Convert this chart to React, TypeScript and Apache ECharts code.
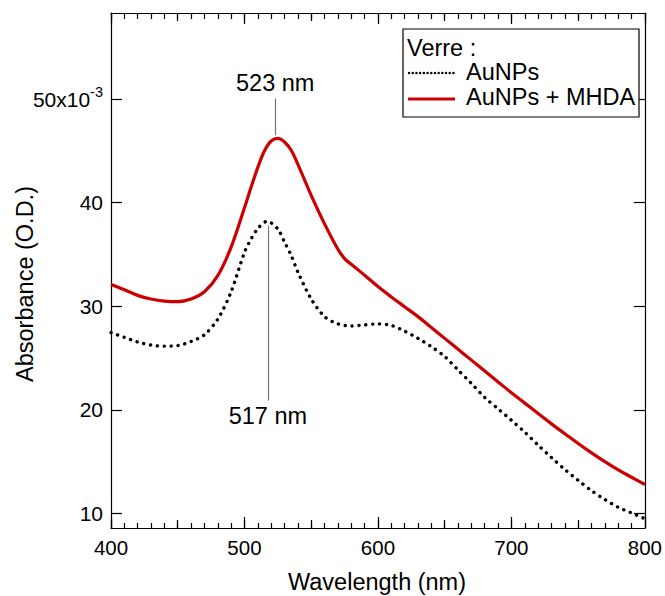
import React, { useEffect, useRef } from "react";
import * as echarts from "echarts";

const aunpsWavelength = [400, 410, 420, 430, 440, 450, 460, 470, 480, 490, 500, 505, 510, 517, 525, 530, 535, 540, 550, 560, 570, 580, 590, 600, 610, 620, 630, 640, 650, 660, 670, 680, 690, 700, 710, 720, 730, 740, 750, 760, 770, 780, 790, 800];
const aunpsAbsorbance = [27.45, 27.0, 26.55, 26.25, 26.15, 26.2, 26.6, 27.25, 28.75, 31.4, 35.2, 36.5, 37.5, 38.2, 37.45, 36.2, 34.9, 33.3, 30.7, 29.0, 28.3, 28.1, 28.2, 28.3, 28.15, 27.6, 26.9, 26.1, 25.15, 23.85, 22.55, 21.2, 20.1, 19.0, 17.85, 16.6, 15.4, 14.25, 13.2, 12.2, 11.35, 10.6, 10.05, 9.5];

const mhdaWavelength = [400, 410, 420, 430, 440, 450, 460, 470, 480, 490, 500, 505, 510, 515, 520, 525, 530, 535, 540, 545, 550, 560, 570, 575, 580, 590, 600, 610, 620, 630, 640, 650, 660, 670, 680, 690, 700, 710, 720, 730, 740, 750, 760, 770, 780, 790, 800];
const mhdaAbsorbance = [32.1, 31.6, 31.05, 30.7, 30.5, 30.45, 30.7, 31.4, 32.95, 35.7, 39.5, 41.5, 43.4, 45.0, 45.95, 46.2, 45.85, 45.05, 43.7, 42.2, 40.7, 37.95, 35.5, 34.6, 34.05, 33.0, 31.9, 30.9, 29.95, 29.0, 27.95, 26.9, 25.85, 24.8, 23.75, 22.7, 21.65, 20.65, 19.65, 18.65, 17.7, 16.75, 15.85, 15.0, 14.2, 13.5, 12.8];

const yTickValues = [10, 20, 30, 40, 50];
const legendTitle = "Verre :";
const seriesNames = ["AuNPs", "AuNPs + MHDA"];
const peakLabels = ["523 nm", "517 nm"];
const peak523 = { x: 523, yTop: 50.05, yBottom: 46.5 };
const peak517 = { x: 517.5, yTop: 37.8, yBottom: 20.9 };

const FONT = "'Liberation Sans', Arial, sans-serif";
const RED = "#cc0000";

export default function App() {
  const ref = useRef<HTMLDivElement>(null);
  useEffect(() => {
    if (!ref.current) return;
    const chart = echarts.init(ref.current, null, { renderer: "svg" });
    const yMin = 8.6;
    const yMax = 58.3;
    const axisLineStyle = { color: "#000", width: 1.2 };
    const hiddenLabel = { show: false };
    const option: any = {
      animation: false,
      backgroundColor: "#fff",
      textStyle: { fontFamily: FONT },
      grid: { left: 111, right: 17, top: 13, bottom: 68, containLabel: false },
      xAxis: [
        {
          type: "value", position: "bottom", min: 400, max: 800, interval: 100,
          axisLine: { show: true, lineStyle: axisLineStyle, onZero: false },
          axisTick: { show: true, inside: true, length: 11, lineStyle: axisLineStyle },
          minorTick: { show: true, splitNumber: 10, length: 5, lineStyle: axisLineStyle },
          axisLabel: { color: "#000", fontSize: 20.5, fontFamily: FONT, margin: 9 },
          splitLine: { show: false },
        },
        {
          type: "value", position: "bottom", min: 400, max: 800, interval: 50,
          axisLine: { show: false, onZero: false },
          axisTick: { show: true, inside: true, length: 8, lineStyle: axisLineStyle },
          axisLabel: hiddenLabel, splitLine: { show: false },
        },
        {
          type: "value", position: "top", min: 400, max: 800, interval: 100,
          axisLine: { show: true, lineStyle: axisLineStyle, onZero: false },
          axisTick: { show: true, inside: true, length: 11, lineStyle: axisLineStyle },
          minorTick: { show: true, splitNumber: 10, length: 6, lineStyle: axisLineStyle },
          axisLabel: hiddenLabel, splitLine: { show: false },
        },
        {
          type: "value", position: "top", min: 400, max: 800, interval: 50,
          axisLine: { show: false, onZero: false },
          axisTick: { show: true, inside: true, length: 8, lineStyle: axisLineStyle },
          axisLabel: hiddenLabel, splitLine: { show: false },
        },
      ],
      yAxis: [
        {
          type: "value", position: "left", min: yMin, max: yMax,
          axisLine: { show: true, lineStyle: axisLineStyle, onZero: false },
          axisTick: { show: true, inside: true, length: 11, lineStyle: axisLineStyle, customValues: yTickValues },
          axisLabel: {
            color: "#000", fontSize: 21, fontFamily: FONT, margin: 8,
            customValues: yTickValues,
            formatter: (v: number) => (v === 50 ? "{a|50x10}{b|-3}" : String(v)),
            rich: {
              a: { fontSize: 21, fontFamily: FONT, color: "#000", lineHeight: 30 },
              b: { fontSize: 14.5, fontFamily: FONT, color: "#000", verticalAlign: "top" },
            },
          },
          splitLine: { show: false },
        },
        {
          type: "value", position: "right", min: yMin, max: yMax,
          axisLine: { show: true, lineStyle: axisLineStyle, onZero: false },
          axisTick: { show: true, inside: true, length: 11, lineStyle: axisLineStyle, customValues: yTickValues },
          axisLabel: hiddenLabel, splitLine: { show: false },
        },
      ],
      series: [
        {
          name: seriesNames[0], type: "line", xAxisIndex: 0, yAxisIndex: 0,
          data: aunpsWavelength.map((w, i) => [w, aunpsAbsorbance[i]]),
          symbol: "none", smooth: 0.3, z: 3,
          lineStyle: { color: "#000", width: 3.4, type: [0.1, 6.8], cap: "round" },
          markLine: {
            silent: true, symbol: "none", animation: false,
            lineStyle: { color: "#777", width: 1.2, type: "solid" },
            label: { show: true, position: "end", color: "#000", fontSize: 23.5, fontFamily: FONT, distance: 3, formatter: peakLabels[1] },
            data: [[{ coord: [peak517.x, peak517.yTop] }, { coord: [peak517.x, peak517.yBottom] }]],
          },
        },
        {
          name: seriesNames[1], type: "line", xAxisIndex: 0, yAxisIndex: 0,
          data: mhdaWavelength.map((w, i) => [w, mhdaAbsorbance[i]]),
          symbol: "none", smooth: 0.35, z: 4,
          lineStyle: { color: RED, width: 3.2 },
          markLine: {
            silent: true, symbol: "none", animation: false,
            lineStyle: { color: "#777", width: 1.2, type: "solid" },
            label: { show: true, position: "start", color: "#000", fontSize: 23.5, fontFamily: FONT, distance: 3, formatter: peakLabels[0] },
            data: [[{ coord: [peak523.x, peak523.yTop] }, { coord: [peak523.x, peak523.yBottom] }]],
          },
        },
      ],
      graphic: [
        {
          type: "text", x: 25, y: 284, rotation: Math.PI / 2,
          style: { text: "Absorbance (O.D.)", fontSize: 23.5, fontFamily: FONT, fill: "#000", align: "center", verticalAlign: "middle" },
        },
        {
          type: "text", x: 377, y: 582,
          style: { text: "Wavelength (nm)", fontSize: 23.5, fontFamily: FONT, fill: "#000", align: "center", verticalAlign: "middle" },
        },
        {
          type: "rect", shape: { x: 403, y: 29, width: 236, height: 88 },
          style: { fill: "#fff", stroke: "#000", lineWidth: 1.2 }, z: 10,
        },
        {
          type: "text", x: 407, y: 48, z: 11,
          style: { text: legendTitle, fontSize: 23.5, fontFamily: FONT, fill: "#000", align: "left", verticalAlign: "middle" },
        },
        {
          type: "line", shape: { x1: 409, y1: 73, x2: 455, y2: 73 }, z: 11,
          style: { stroke: "#000", lineWidth: 2.4, lineDash: [0.1, 3.6], lineCap: "round" },
        },
        {
          type: "text", x: 466, y: 72, z: 11,
          style: { text: seriesNames[0], fontSize: 23.5, fontFamily: FONT, fill: "#000", align: "left", verticalAlign: "middle" },
        },
        {
          type: "line", shape: { x1: 408, y1: 99, x2: 455, y2: 99 }, z: 11,
          style: { stroke: RED, lineWidth: 3.2 },
        },
        {
          type: "text", x: 466, y: 97, z: 11,
          style: { text: seriesNames[1], fontSize: 23.5, fontFamily: FONT, fill: "#000", align: "left", verticalAlign: "middle" },
        },
      ],
    };
    chart.setOption(option);
    return () => chart.dispose();
  }, []);
  return <div ref={ref} style={{ width: 665, height: 596, position: "absolute", left: 0, top: 0 }} />;
}
